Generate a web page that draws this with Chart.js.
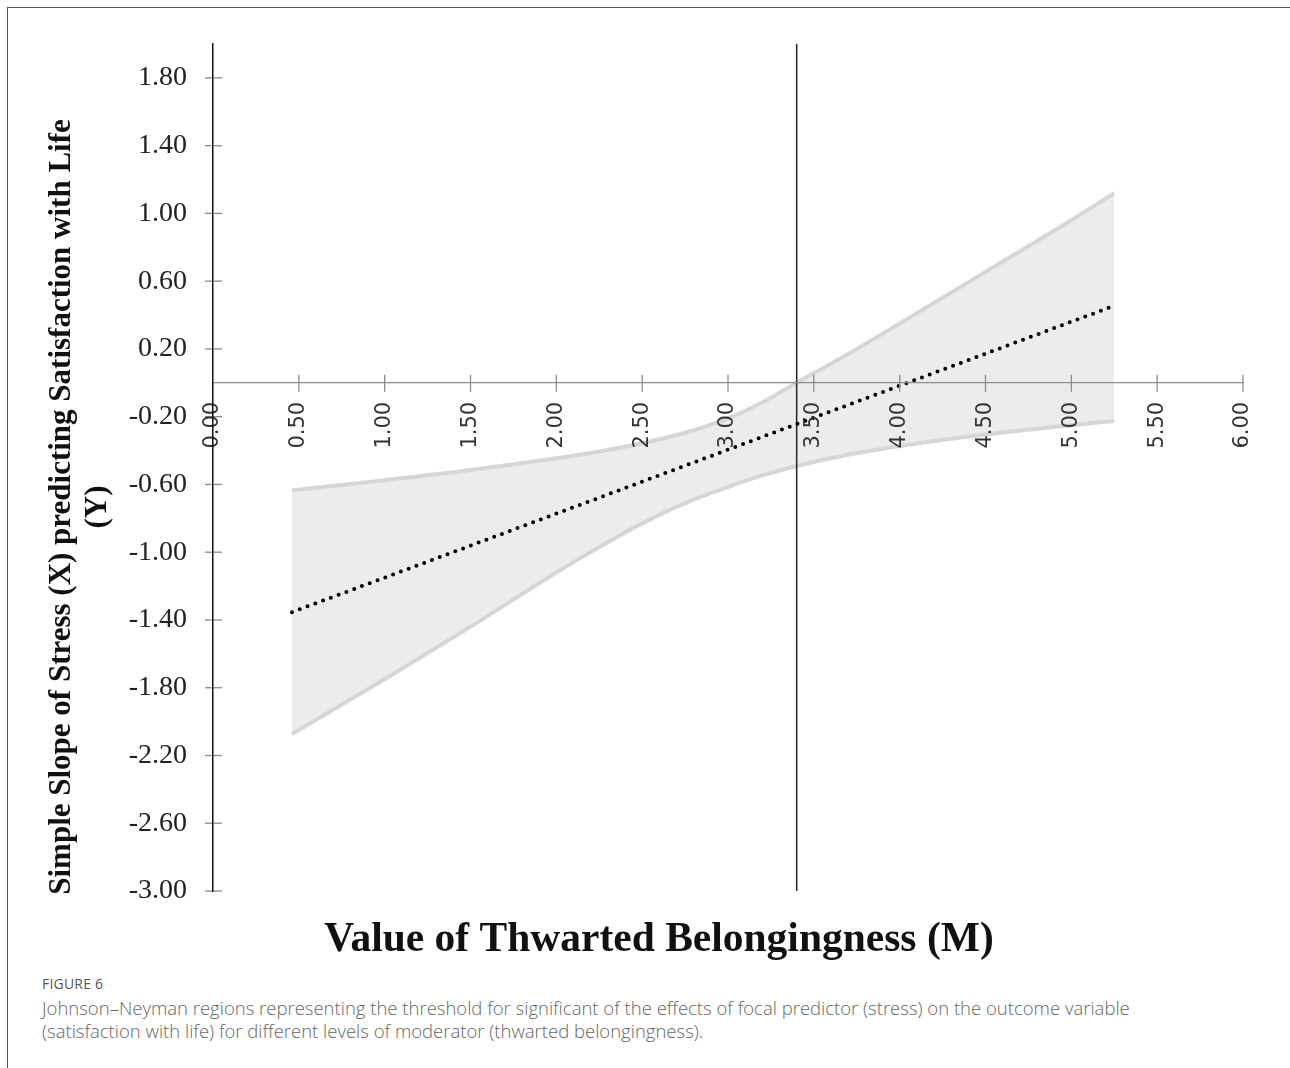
<!DOCTYPE html>
<html>
<head>
<meta charset="utf-8">
<script src="https://cdn.jsdelivr.net/npm/chart.js@4.4.1/dist/chart.umd.min.js"></script>
<style>
  html, body { margin: 0; padding: 0; background: #fff; }
  #frame {
    position: absolute; left: 7px; top: 7px; width: 1283px; height: 1061px;
    border-top: 1.5px solid #555; border-left: 1.5px solid #555;
  }
  #wrap { position: absolute; left: 0; top: 0; width: 1290px; height: 970px; }
  #caption {
    position: absolute; left: 42px; top: 974px; width: 1230px;
    font-family: "Open Sans", sans-serif; color: #666;
  }
  #caption .fig { font-size: 14px; letter-spacing: 0.2px; margin-bottom: 3px; color: #555; }
  #caption .txt { font-size: 18.5px; line-height: 23px; font-weight: 300; }
</style>
</head>
<body>
<div id="frame"></div>
<div id="wrap"><canvas id="chartJN"></canvas></div>
<div id="caption">
  <div class="fig">FIGURE 6</div>
  <div class="txt">Johnson–Neyman regions representing the threshold for significant of the effects of focal predictor (stress) on the outcome variable<br>(satisfaction with life) for different levels of moderator (thwarted belongingness).</div>
</div>
<script>
// Valores del moderador (M)
const moderador = [0.46, 1.0, 1.5, 2.0, 2.25, 2.5, 2.75, 3.0, 3.2, 3.4, 3.7, 4.0, 4.5, 5.0, 5.25];
// Límites del intervalo de confianza
const limiteSuperior = [-0.635, -0.575, -0.515, -0.445, -0.405, -0.357, -0.295, -0.21, -0.115, 0.0, 0.17, 0.35, 0.655, 0.96, 1.12];
const limiteInferior = [-2.073, -1.75, -1.44, -1.12, -0.97, -0.83, -0.71, -0.615, -0.547, -0.491, -0.425, -0.373, -0.305, -0.25, -0.225];
// Pendiente simple (línea punteada)
const pendienteX = [0.46, 5.25];
const pendienteY = [-1.354, 0.455];
// Punto de Johnson-Neyman
const puntoJN = 3.40;

const ticksX = [0, 0.5, 1, 1.5, 2, 2.5, 3, 3.5, 4, 4.5, 5, 5.5, 6];
const ticksY = [-3.0, -2.6, -2.2, -1.8, -1.4, -1.0, -0.6, -0.2, 0.2, 0.6, 1.0, 1.4, 1.8];

const tituloX = 'Value of Thwarted Belongingness (M)';
const tituloY = ['Simple Slope of Stress (X) predicting Satisfaction with Life', '(Y)'];

const puntos = (xs, ys) => xs.map((x, i) => ({ x: x, y: ys[i] }));

// Marcas que cruzan los ejes
const marcasCruzadas = {
    id: 'marcasCruzadas',
    afterDatasetsDraw(chart) {
        const { ctx, scales: { x, y } } = chart;
        const y0 = y.getPixelForValue(0);
        ctx.save();
        ctx.strokeStyle = '#8c8c8c';
        ctx.lineWidth = 1.3;
        ticksX.forEach(v => {
            if (v === 0) return;
            const px = x.getPixelForValue(v);
            ctx.beginPath(); ctx.moveTo(px, y0 - 8); ctx.lineTo(px, y0 + 9); ctx.stroke();
        });
        ticksY.forEach(v => {
            const py = y.getPixelForValue(v);
            ctx.beginPath(); ctx.moveTo(x.left - 8, py); ctx.lineTo(x.left + 9, py); ctx.stroke();
        });
        ctx.restore();
    }
};

// Títulos de los ejes
const titulos = {
    id: 'titulos',
    afterDraw(chart) {
        const { ctx } = chart;
        ctx.save();
        ctx.fillStyle = '#111';
        ctx.textAlign = 'center';
        ctx.textBaseline = 'middle';
        ctx.font = 'bold 41.5px "Liberation Serif", serif';
        ctx.fillText(tituloX, 659, 940);
        ctx.font = 'bold 31px "Liberation Serif", serif';
        ctx.translate(62, 507);
        ctx.rotate(-Math.PI / 2);
        ctx.fillText(tituloY[0], 0, 0);
        ctx.fillText(tituloY[1], 0, 36);
        ctx.restore();
    }
};

document.addEventListener('DOMContentLoaded', function () {
    const ctx = document.getElementById('chartJN').getContext('2d');

    new Chart(ctx, {
        type: 'line',
        data: {
            datasets: [
                {
                    label: 'Simple slope',
                    data: puntos(pendienteX, pendienteY),
                    borderColor: '#000',
                    borderWidth: 4,
                    borderDash: [0, 8.3],
                    borderCapStyle: 'round',
                    pointRadius: 0,
                    fill: false
                },
                {
                    label: 'JN',
                    data: [{ x: puntoJN, y: 2.0 }, { x: puntoJN, y: -3.0 }],
                    borderColor: '#222',
                    borderWidth: 1.5,
                    pointRadius: 0,
                    fill: false
                },
                {
                    label: 'Upper',
                    data: puntos(moderador, limiteSuperior),
                    borderColor: '#d6d6d6',
                    borderWidth: 4,
                    backgroundColor: '#ececec',
                    pointRadius: 0,
                    cubicInterpolationMode: 'monotone',
                    fill: '+1'
                },
                {
                    label: 'Lower',
                    data: puntos(moderador, limiteInferior),
                    borderColor: '#d6d6d6',
                    borderWidth: 4,
                    pointRadius: 0,
                    cubicInterpolationMode: 'monotone',
                    fill: false
                }
            ]
        },
        options: {
            responsive: true,
            maintainAspectRatio: false,
            animation: false,
            events: [],
            layout: { padding: { left: 0, top: 44, right: 47, bottom: 79 } },
            plugins: {
                legend: { display: false },
                tooltip: { enabled: false },
                filler: { drawTime: 'beforeDatasetsDraw' }
            },
            scales: {
                x: {
                    type: 'linear',
                    position: { y: 0 },
                    min: 0,
                    max: 6,
                    afterBuildTicks: s => { s.ticks = ticksX.map(v => ({ value: v })); },
                    grid: { drawOnChartArea: false, drawTicks: false },
                    border: { color: '#8c8c8c', width: 1.3, z: 1 },
                    ticks: {
                        z: 1,
                        autoSkip: false,
                        minRotation: 90,
                        maxRotation: 90,
                        padding: 19,
                        color: '#333',
                        font: { family: '"DejaVu Sans", sans-serif', size: 21 },
                        callback: v => Number(v).toFixed(2)
                    }
                },
                y: {
                    type: 'linear',
                    min: -3,
                    max: 2,
                    afterBuildTicks: s => { s.ticks = ticksY.map(v => ({ value: v })); },
                    afterFit: s => { s.width = 213; },
                    grid: { drawOnChartArea: false, drawTicks: false },
                    border: { color: '#111', width: 1.5, z: 1 },
                    ticks: {
                        z: 1,
                        padding: 26,
                        color: '#222',
                        font: { family: '"Liberation Serif", serif', size: 28 },
                        callback: v => Number(v).toFixed(2)
                    }
                }
            }
        },
        plugins: [marcasCruzadas, titulos]
    });
});
</script>
</body>
</html>
